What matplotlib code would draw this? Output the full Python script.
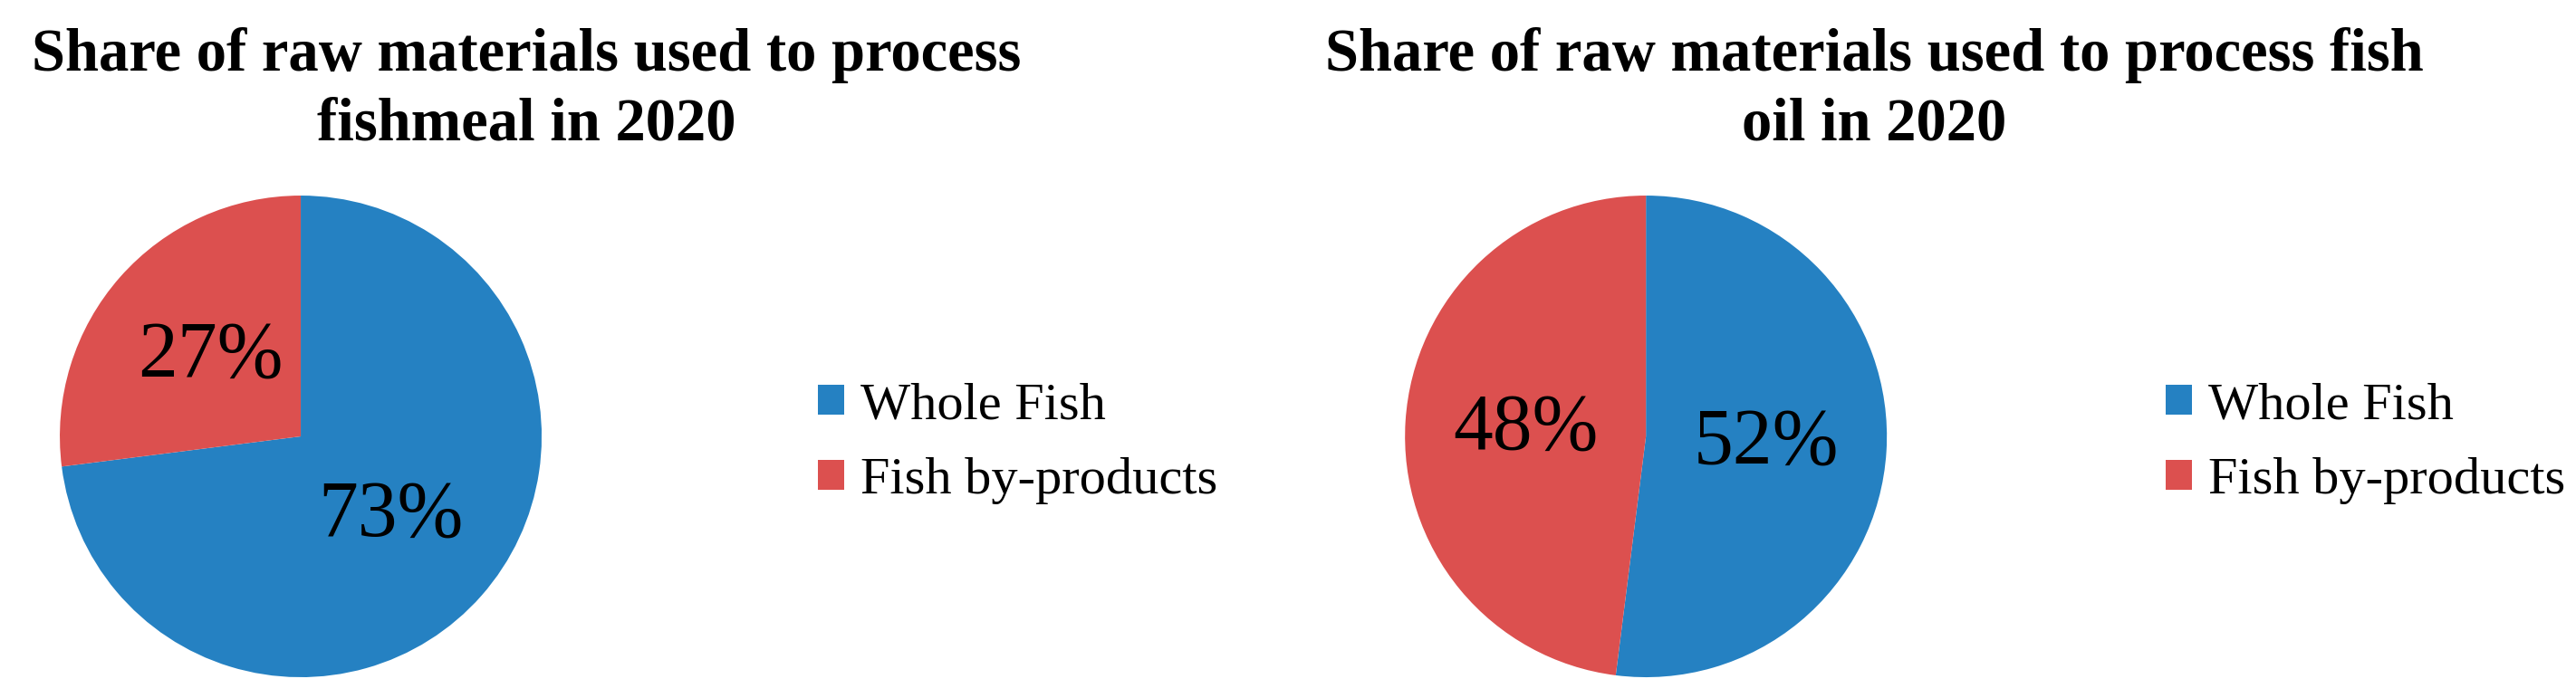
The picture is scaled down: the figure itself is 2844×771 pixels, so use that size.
import matplotlib.pyplot as plt

plt.rcParams['font.family'] = ['Liberation Serif', 'DejaVu Serif']

categories = ["Whole Fish", "Fish by-products"]
fishmeal_share = [73, 27]
fishoil_share = [52, 48]
titles = [("Share of raw materials used to process", "fishmeal in 2020"),
          ("Share of raw materials used to process fish", "oil in 2020")]

colors = ["#2581C2", "#DC504F"]

fig = plt.figure(figsize=(28.44, 7.71), dpi=100)

# data, axes rect, title centre x, legend left x
panels = [
    (fishmeal_share, [0.0232, 0.0298, 0.1871, 0.690], 0.2043, 0.3175),
    (fishoil_share, [0.5454, 0.0298, 0.1871, 0.690], 0.7275, 0.8407),
]

for (vals, rect, tx, lx), (line1, line2) in zip(panels, titles):
    ax = fig.add_axes(rect)
    wedges, _, _ = ax.pie(vals, colors=colors, startangle=90, counterclock=False,
                          autopct="%d%%", pctdistance=0.5,
                          wedgeprops=dict(linewidth=0),
                          textprops=dict(fontsize=63, color="black"))
    ax.set_xlim(-1, 1)
    ax.set_ylim(-1, 1)
    ax.set_aspect("equal")

    fig.text(tx, 0.8988, line1, ha="center", va="baseline", fontsize=48,
             fontweight="bold")
    fig.text(tx, 0.799, line2, ha="center", va="baseline", fontsize=48,
             fontweight="bold")

    fig.legend(wedges, categories, loc="center left", bbox_to_anchor=(lx, 0.365),
               frameon=False, fontsize=42, borderpad=0, borderaxespad=0,
               handlelength=0.5, handleheight=0.5, handletextpad=0.3,
               labelspacing=0.53)

fig.savefig("out.png", dpi=100)
